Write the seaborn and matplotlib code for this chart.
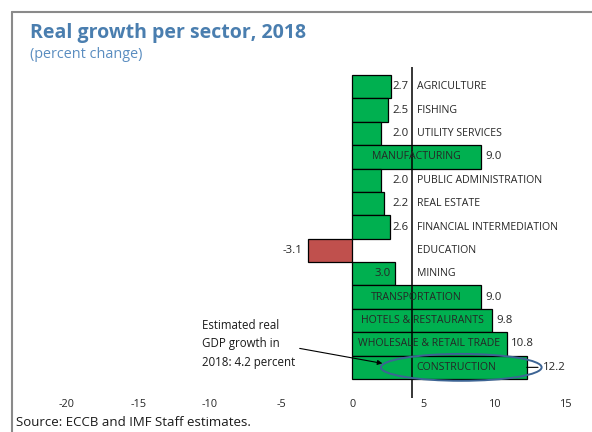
import matplotlib
matplotlib.use("Agg")
import matplotlib.pyplot as plt
from matplotlib.lines import Line2D
from matplotlib.patches import Ellipse
import seaborn as sns

# Sector growth rates, 2018 (percent change)
sectors = [
    "AGRICULTURE", "FISHING", "UTILITY SERVICES", "MANUFACTURING",
    "PUBLIC ADMINISTRATION", "REAL ESTATE", "FINANCIAL INTERMEDIATION",
    "EDUCATION", "MINING", "TRANSPORTATION", "HOTELS & RESTAURANTS",
    "WHOLESALE & RETAIL TRADE", "CONSTRUCTION",
]
growth = [2.7, 2.5, 2.0, 9.0, 2.0, 2.2, 2.6, -3.1, 3.0, 9.0, 9.8, 10.8, 12.2]
gdp_growth = 4.2
x_ticks = [-20, -15, -10, -5, 0, 5, 10, 15]

title = "Real growth per sector, 2018"
subtitle = "(percent change)"
source = "Source: ECCB and IMF Staff estimates."
gdp_note = "Estimated real\nGDP growth in\n2018: 4.2 percent"

# Label placement for each sector: names inside the bar (centred) or right of the GDP line;
# values outside the bar end, inside the bar end, or tucked against the GDP line.
name_inside = {"MANUFACTURING", "TRANSPORTATION", "HOTELS & RESTAURANTS",
               "WHOLESALE & RETAIL TRADE"}
value_at_line = {"AGRICULTURE", "FISHING", "UTILITY SERVICES", "PUBLIC ADMINISTRATION",
                 "REAL ESTATE", "FINANCIAL INTERMEDIATION"}
value_inside = {"MINING"}

GREEN = "#00B050"
RED = "#C0504D"
TITLE_BLUE = "#4A7EAF"
SUB_BLUE = "#5A8DC0"

sns.set_style("white")
plt.rcParams["font.family"] = ["Open Sans", "DejaVu Sans"]
plt.rcParams["axes.unicode_minus"] = False

W, H = 592, 432
fig = plt.figure(figsize=(W / 100, H / 100), dpi=100)
ax = fig.add_axes([66.7 / W, 1 - 398 / H, 500 / W, 331 / H])

colors = [GREEN if v >= 0 else RED for v in growth]
sns.barplot(x=growth, y=sectors, hue=sectors, palette=colors, orient="h",
            width=1.0, edgecolor="black", linewidth=0.9, saturation=1,
            legend=False, ax=ax)

ax.set_xlim(x_ticks[0], x_ticks[-1])
ax.set_ylim(len(sectors) - 0.5 + 0.81, -0.5 - 0.34)
ax.set_xticks(x_ticks)
ax.set_xticklabels([str(t) for t in x_ticks], fontsize=7.8, color="#262626")
ax.set_yticks([])
ax.set_xlabel("")
ax.set_ylabel("")
ax.tick_params(axis="x", length=0, pad=1.0)
for s in ax.spines.values():
    s.set_visible(False)

# Overall GDP growth reference line
ax.axvline(gdp_growth, color="black", lw=1.1, zorder=3)

name_fs = 7.6
value_fs = 8.2
for i, (name, v) in enumerate(zip(sectors, growth)):
    # sector name
    if name in name_inside:
        ax.text(v / 2, i, name, ha="center", va="center", fontsize=name_fs, zorder=4)
    else:
        ax.annotate(name, xy=(gdp_growth, i), xytext=(3.0, 0), textcoords="offset points",
                    ha="left", va="center", fontsize=name_fs, zorder=4)
    # value label
    label = f"{v:.1f}"
    if name in value_at_line:
        ax.annotate(label, xy=(gdp_growth, i), xytext=(-2.6, 0), textcoords="offset points",
                    ha="right", va="center", fontsize=value_fs, zorder=4)
    elif name in value_inside:
        ax.annotate(label, xy=(v, i), xytext=(-3.3, 0), textcoords="offset points",
                    ha="right", va="center", fontsize=value_fs, zorder=4)
    elif v < 0:
        ax.annotate(label, xy=(v, i), xytext=(-4.3, 0), textcoords="offset points",
                    ha="right", va="center", fontsize=value_fs, zorder=4)
    elif name == "CONSTRUCTION":
        ax.annotate(label, xy=(v, i), xytext=(12.0, 0), textcoords="offset points",
                    ha="left", va="center", fontsize=value_fs, zorder=4,
                    arrowprops=dict(arrowstyle="-", color="black", lw=0.8,
                                    shrinkA=1.5, shrinkB=0))
    else:
        ax.annotate(label, xy=(v, i), xytext=(3.0, 0), textcoords="offset points",
                    ha="left", va="center", fontsize=value_fs, zorder=4)

# Highlight around the largest contributor
top = len(sectors) - 1
ax.add_patch(Ellipse((7.62, top), width=11.25, height=1.15, fill=False,
                     edgecolor="#3D6494", lw=1.4, zorder=5, clip_on=False))

# GDP growth note with pointer
ax.text(-10.5, top - 1.0, gdp_note, ha="left", va="center", fontsize=8.3,
        linespacing=1.55, color="#1a1a1a")
ax.annotate("", xy=(2.1, top - 0.17), xytext=(-3.69, top - 0.81),
            arrowprops=dict(arrowstyle="-|>", color="black", lw=0.8,
                            mutation_scale=7, shrinkA=0, shrinkB=0))

# Titles and source
fig.text(30 / W, 1 - 38.3 / H, title, fontsize=14.0, fontweight="bold",
         color=TITLE_BLUE, va="baseline", ha="left")
fig.text(30 / W, 1 - 57.5 / H, subtitle, fontsize=10.4, color=SUB_BLUE,
         va="baseline", ha="left")
fig.text(16 / W, 1 - 425.7 / H, source, fontsize=9.5, color="#1a1a1a",
         va="baseline", ha="left")

# Panel frame (open on the right and bottom)
bx, by = 11.5 / W, 1 - 11.5 / H
fig.add_artist(Line2D([bx, bx], [0, by], transform=fig.transFigure,
                      color="#8a8a8a", lw=1.5))
fig.add_artist(Line2D([bx, 1], [by, by], transform=fig.transFigure,
                      color="#8a8a8a", lw=1.5))

fig.savefig("out.png", dpi=100)
